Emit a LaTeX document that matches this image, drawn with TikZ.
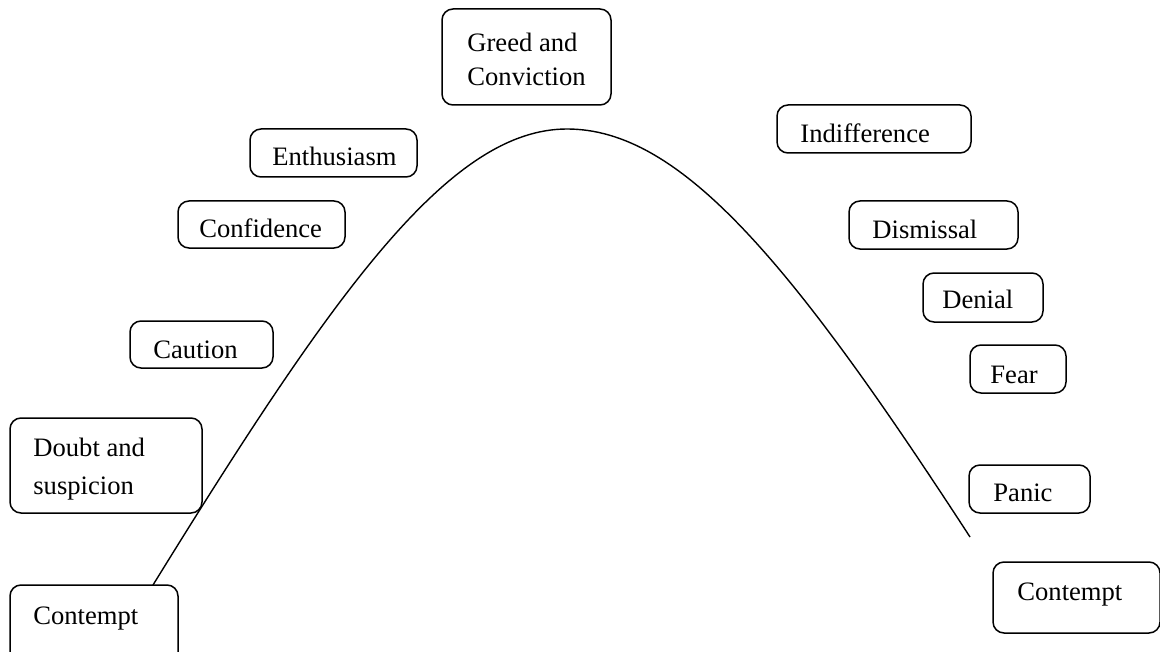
\documentclass[tikz,border=0pt]{standalone}
\usepackage{fontspec}
\setmainfont{Liberation Serif}
\begin{document}
\begin{tikzpicture}[x=0.5pt,y=-0.5pt,
  box/.style={draw,line width=0.75pt,rounded corners=5.5pt,inner sep=0pt},
  lbl/.style={anchor=base west,inner sep=0pt,align=left,font=\fontsize{13.3}{18}\selectfont},
  curve/.style={line width=0.7pt}]
\useasboundingbox (0,0) rectangle (1160,652);
% boxes
\begin{scope}
\clip (0,0) rectangle (1160,652);
\draw[box] (442,9) rectangle (611,105) coordinate (bgreed);
\draw[box] (250,129) rectangle (417,177) coordinate (benth);
\draw[box] (178,201) rectangle (345,248) coordinate (bconf);
\draw[box] (130,321) rectangle (273,368) coordinate (bcaut);
\draw[box] (10,418) rectangle (202,513) coordinate (bdoubt);
\draw[box] (10,585) rectangle (178,670) coordinate (bcontl);
\draw[box] (777,105) rectangle (971,153) coordinate (bindiff);
\draw[box] (849,201) rectangle (1018,249) coordinate (bdism);
\draw[box] (923,273) rectangle (1043,322) coordinate (bden);
\draw[box] (970,345) rectangle (1066,393) coordinate (bfear);
\draw[box] (969,465) rectangle (1090,513) coordinate (bpanic);
\draw[box] (993,562) rectangle (1160,633) coordinate (bcontr);
\end{scope}
% labels (multi-line: anchor on last line's baseline)
\node[lbl,font=\fontsize{13.3}{17}\selectfont] (greed) at (467,86) {Greed and\\Conviction};
\node[lbl] (enth) at (272,166) {Enthusiasm};
\node[lbl] (conf) at (199,237) {Confidence};
\node[lbl] (caut) at (153,358) {Caution};
\node[lbl,font=\fontsize{13.3}{19}\selectfont] (doubt) at (33,494) {Doubt and\\suspicion};
\node[lbl] (contl) at (33,624) {Contempt};
\node[lbl] (indiff) at (800,143) {Indifference};
\node[lbl] (dism) at (872,238) {Dismissal};
\node[lbl] (den) at (942,308) {Denial};
\node[lbl] (fear) at (990,383) {Fear};
\node[lbl] (panic) at (993,501) {Panic};
\node[lbl] (contr) at (1017,600) {Contempt};
% curve
\coordinate (cstart) at (153,585);
\coordinate (ctop) at (567,129);
\coordinate (cend) at (970,537);
\draw[curve] (cstart) .. controls (335,290) and (450,129) .. (ctop)
  .. controls (680,129) and (790,260) .. (cend);
\end{tikzpicture}
\end{document}
